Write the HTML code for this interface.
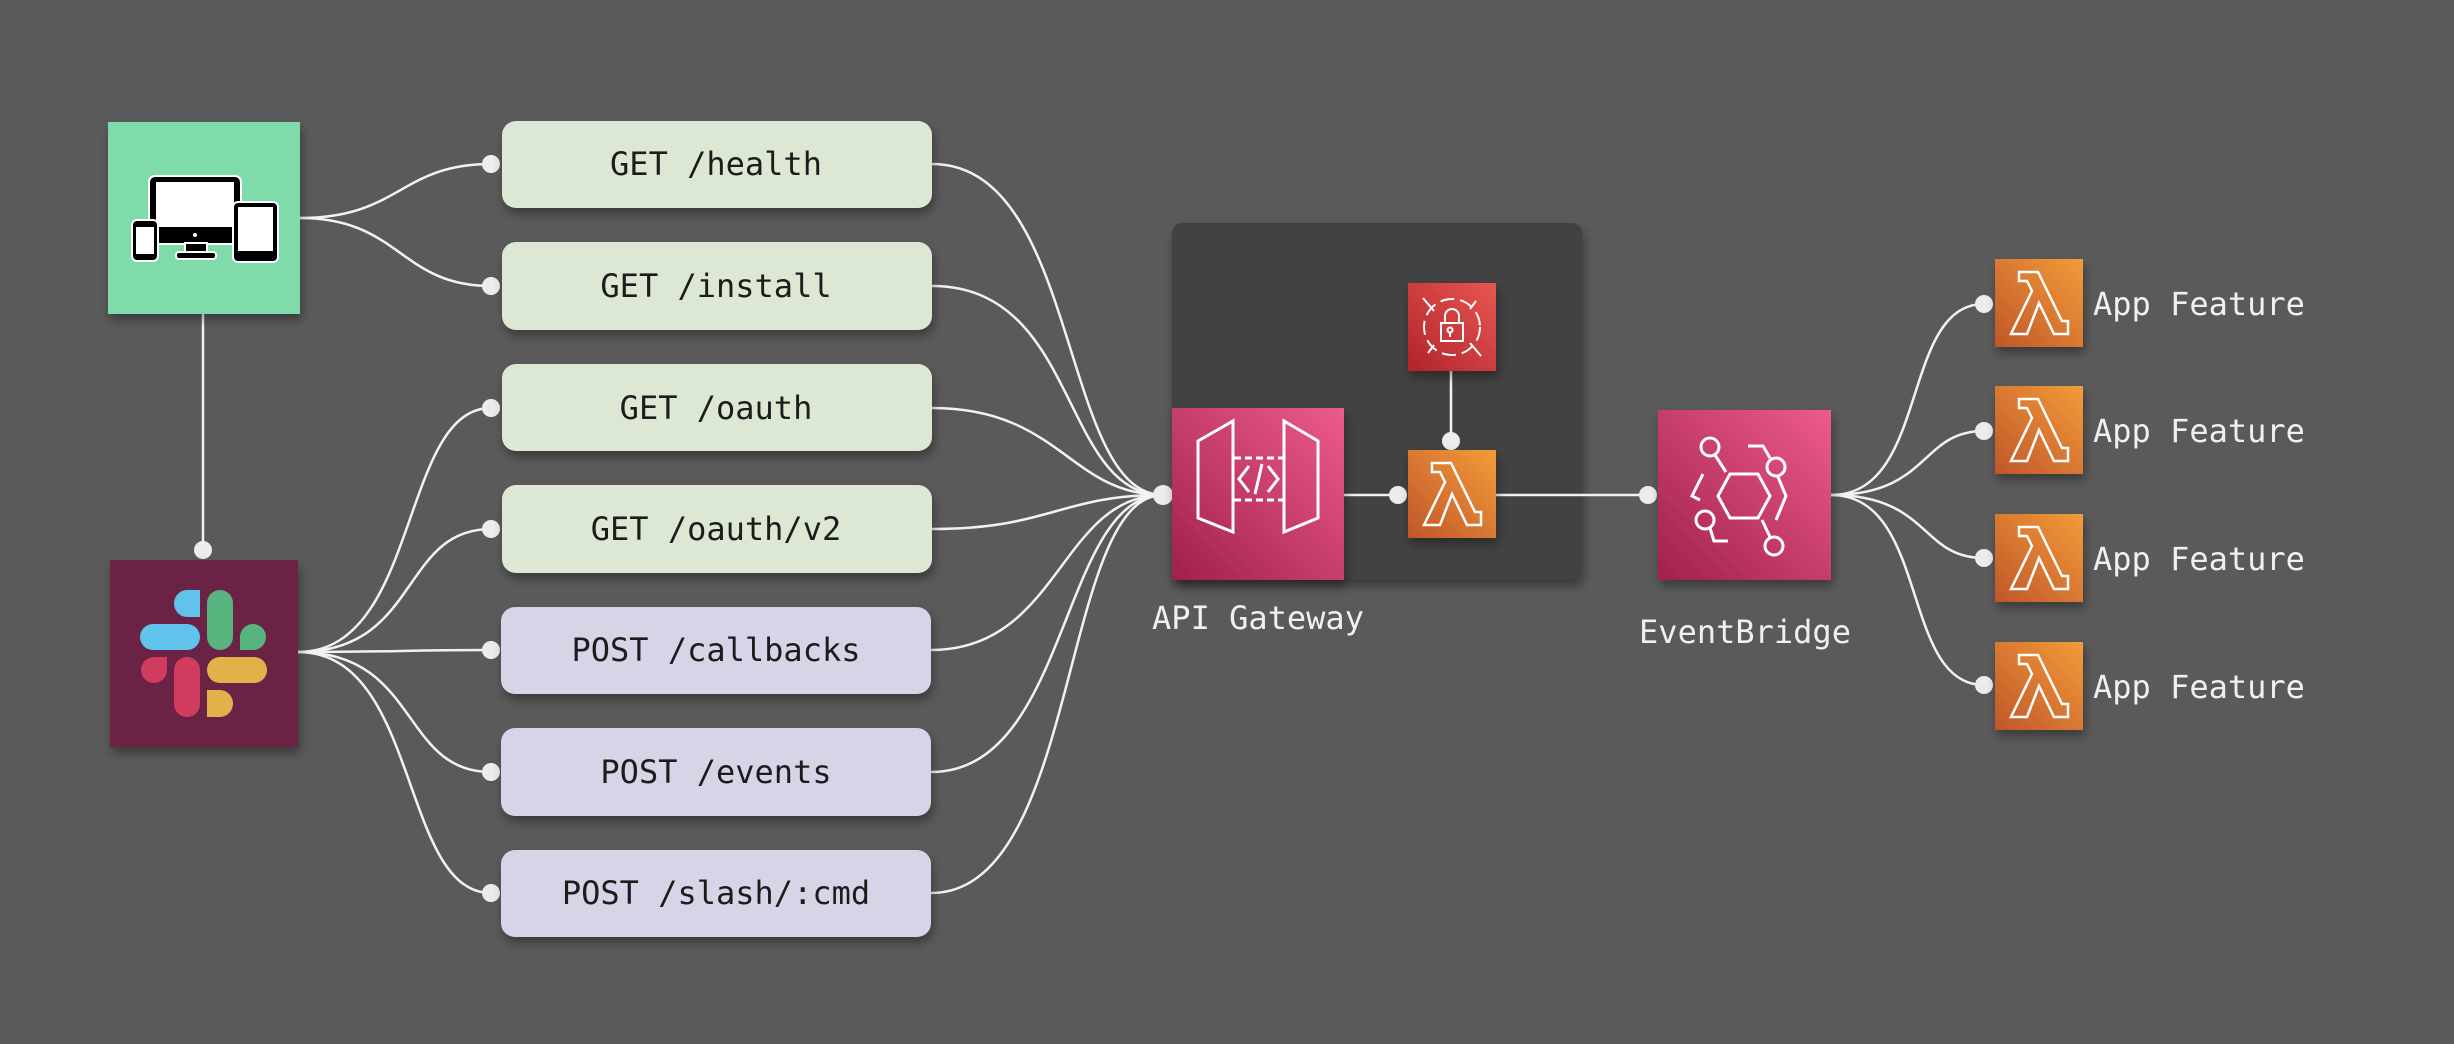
<!DOCTYPE html>
<html><head><meta charset="utf-8"><style>
html,body{margin:0;padding:0;background:#5a5a5a;}
svg{display:block;}
text{font-family:"DejaVu Sans Mono","Liberation Mono",monospace;}
</style></head><body>
<svg width="2454" height="1044" viewBox="0 0 2454 1044" xmlns="http://www.w3.org/2000/svg">
<defs>
<filter id="sh" x="-20%" y="-20%" width="150%" height="150%"><feDropShadow dx="2" dy="6" stdDeviation="5" flood-color="#000" flood-opacity="0.35"/></filter>
<linearGradient id="gp" x1="0" y1="1" x2="1" y2="0"><stop offset="0" stop-color="#a1204d"/><stop offset="1" stop-color="#ec5b8c"/></linearGradient>
<linearGradient id="go" x1="0" y1="1" x2="1" y2="0"><stop offset="0" stop-color="#c0562a"/><stop offset="1" stop-color="#f39c38"/></linearGradient>
<linearGradient id="gr" x1="0" y1="1" x2="1" y2="0"><stop offset="0" stop-color="#b0242a"/><stop offset="1" stop-color="#e85652"/></linearGradient>
<g id="lam"><polygon points="24,13 43,13 67,62 73,62 73,75 59,75 44,44 32,75 16,75 37,32 32,22 24,22" fill="none" stroke="#fff" stroke-width="2.5" stroke-linejoin="miter"/></g>
</defs>

<!-- group -->
<rect x="1172" y="223" width="410" height="357" rx="10" fill="#424242" filter="url(#sh)"/>

<!-- connectors -->
<g fill="none" stroke="#f2f2f2" stroke-width="2.5">
<line x1="203" y1="314" x2="203" y2="550"/>
<path d="M300 218 C400 218 400 164 491 164"/>
<path d="M300 218 C400 218 400 286 491 286"/>
<path d="M298 652 C420 652 400 408 491 408"/>
<path d="M298 652 C420 652 400 529 491 529"/>
<path d="M298 652 C400 652 400 650 491 650"/>
<path d="M298 652 C420 652 400 772 491 772"/>
<path d="M298 652 C420 652 400 893 491 893"/>
<path d="M932 164 C1080 164 1060 495 1163 495"/>
<path d="M932 286 C1080 286 1060 495 1163 495"/>
<path d="M932 408 C1060 408 1070 495 1163 495"/>
<path d="M932 529 C1050 529 1060 495 1163 495"/>
<path d="M931 650 C1060 650 1060 495 1163 495"/>
<path d="M931 772 C1070 772 1060 495 1163 495"/>
<path d="M931 893 C1080 893 1060 495 1163 495"/>
<line x1="1344" y1="495" x2="1398" y2="495"/>
<line x1="1451" y1="371" x2="1451" y2="441"/>
<line x1="1496" y1="495" x2="1648" y2="495"/>
<path d="M1831 495 C1930 495 1900 304 1984 304"/>
<path d="M1831 495 C1930 495 1920 431 1984 431"/>
<path d="M1831 495 C1930 495 1920 558 1984 558"/>
<path d="M1831 495 C1930 495 1900 685 1984 685"/>
</g>
<g fill="#ececec">
<ellipse cx="203" cy="550" rx="9" ry="9"/>
<circle cx="491" cy="164" r="9"/><circle cx="491" cy="286" r="9"/><circle cx="491" cy="408" r="9"/><circle cx="491" cy="529" r="9"/><circle cx="491" cy="650" r="9"/><circle cx="491" cy="772" r="9"/><circle cx="491" cy="893" r="9"/>
<circle cx="1163" cy="495" r="10"/><circle cx="1398" cy="495" r="9"/><circle cx="1451" cy="441" r="9"/><circle cx="1648" cy="495" r="9"/>
<circle cx="1984" cy="304" r="9"/><circle cx="1984" cy="431" r="9"/><circle cx="1984" cy="558" r="9"/><circle cx="1984" cy="685" r="9"/>
</g>

<!-- devices -->
<rect x="108" y="122" width="192" height="192" fill="#7fdcaa" filter="url(#sh)"/>
<g stroke="#fff" stroke-width="2">
<rect x="149" y="176" width="92" height="68" rx="6" fill="#000"/>
<rect x="156" y="182" width="78" height="45" fill="#fff" stroke="none"/>
<rect x="185" y="243" width="22" height="10" fill="#000"/>
<rect x="176" y="252" width="40" height="7" rx="3" fill="#000"/>
<rect x="132" y="220" width="26" height="41" rx="5" fill="#000"/>
<rect x="136" y="227" width="18" height="27" fill="#fff" stroke="none"/>
<rect x="233" y="202" width="45" height="60" rx="5" fill="#000"/>
<rect x="238" y="207" width="35" height="44" fill="#fff" stroke="none"/>
</g>
<circle cx="195" cy="235" r="2" fill="#fff"/>

<!-- slack -->
<rect x="110" y="560" width="188" height="187" fill="#6a2245" filter="url(#sh)"/>
<g>
<rect x="140" y="624" width="60" height="26" rx="13" fill="#5fc3ec"/>
<path d="M200 590 V617 H187 A13 13.5 0 0 1 187 590 Z" fill="#5fc3ec"/>
<rect x="207" y="590" width="26" height="60" rx="13" fill="#58b47f"/>
<path d="M240 650 V637 A13 13 0 1 1 253 650 Z" fill="#58b47f"/>
<rect x="174" y="657" width="26" height="60" rx="13" fill="#d03b5e"/>
<path d="M167 657 V670 A13 13 0 1 1 154 657 Z" fill="#d03b5e"/>
<rect x="207" y="657" width="60" height="26" rx="13" fill="#e3b14a"/>
<path d="M207 690 H220 A13 13.5 0 0 1 220 717 H207 Z" fill="#e3b14a"/>
</g>

<!-- routes -->
<g filter="url(#sh)">
<rect x="502" y="121" width="430" height="87" rx="14" fill="#dde8d4"/>
<rect x="502" y="242" width="430" height="88" rx="14" fill="#dde8d4"/>
<rect x="502" y="364" width="430" height="87" rx="14" fill="#dde8d4"/>
<rect x="502" y="485" width="430" height="88" rx="14" fill="#dde8d4"/>
<rect x="501" y="607" width="430" height="87" rx="14" fill="#d8d4e7"/>
<rect x="501" y="728" width="430" height="88" rx="14" fill="#d8d4e7"/>
<rect x="501" y="850" width="430" height="87" rx="14" fill="#d8d4e7"/>
</g>
<g font-size="32" fill="#1c1c1c" text-anchor="middle">
<text x="716" y="175">GET /health</text>
<text x="716" y="297">GET /install</text>
<text x="716" y="419">GET /oauth</text>
<text x="716" y="540">GET /oauth/v2</text>
<text x="716" y="661">POST /callbacks</text>
<text x="716" y="783">POST /events</text>
<text x="716" y="904">POST /slash/:cmd</text>
</g>

<!-- API gateway -->
<rect x="1172" y="408" width="172" height="172" fill="url(#gp)" filter="url(#sh)"/>
<g fill="none" stroke="#fff" stroke-width="3">
<polygon points="1198,441 1233,421 1233,532 1198,518"/>
<polygon points="1284,421 1318,441 1318,518 1284,532"/>
<line x1="1234" y1="458" x2="1283" y2="458" stroke-dasharray="7,4"/>
<line x1="1234" y1="500" x2="1283" y2="500" stroke-dasharray="7,4"/>
<polyline points="1249,466 1239,479 1249,492"/><polyline points="1268,466 1278,479 1268,492"/><line x1="1262" y1="464" x2="1255" y2="494"/>
</g>
<text x="1258" y="629" font-size="32" fill="#f0f0f0" text-anchor="middle">API Gateway</text>

<!-- shield -->
<rect x="1408" y="283" width="88" height="88" fill="url(#gr)" filter="url(#sh)"/>
<g fill="none" stroke="#fff" stroke-width="2" transform="translate(1408,283)">
<circle cx="44" cy="44" r="28" stroke-dasharray="14,6"/>
<rect x="33" y="40" width="22" height="18"/><path d="M37 40 V33 A7 7 0 0 1 51 33 V40"/>
<circle cx="42" cy="47" r="2.5"/><line x1="42" y1="49" x2="42" y2="54"/>
<line x1="15" y1="15" x2="26" y2="28"/><line x1="73" y1="73" x2="62" y2="60"/>
<line x1="20" y1="70" x2="26" y2="62"/><line x1="68" y1="18" x2="62" y2="26"/>
</g>

<!-- lambda in group -->
<rect x="1408" y="450" width="88" height="88" fill="url(#go)" filter="url(#sh)"/>
<use href="#lam" transform="translate(1408,450)"/>

<!-- EventBridge -->
<rect x="1658" y="410" width="173" height="170" fill="url(#gp)" filter="url(#sh)"/>
<g fill="none" stroke="#fff" stroke-width="3" transform="translate(1658,410)">
<polygon points="72,64 100,64 112,86 100,108 72,108 60,86"/>
<circle cx="52" cy="37" r="9"/><line x1="57" y1="45" x2="68" y2="62"/>
<circle cx="118" cy="57" r="9"/><polyline points="90,36 105,36 112,48"/><polyline points="120,67 128,86 118,110"/>
<circle cx="47" cy="110" r="9"/><polyline points="42,90 34,86 45,64"/><polyline points="52,118 56,131 70,131"/>
<circle cx="116" cy="136" r="9"/><line x1="104" y1="110" x2="112" y2="127"/>
</g>
<text x="1745" y="643" font-size="32" fill="#f0f0f0" text-anchor="middle">EventBridge</text>

<!-- app features -->
<g filter="url(#sh)">
<rect x="1995" y="259" width="88" height="88" fill="url(#go)"/>
<rect x="1995" y="386" width="88" height="88" fill="url(#go)"/>
<rect x="1995" y="514" width="88" height="88" fill="url(#go)"/>
<rect x="1995" y="642" width="88" height="88" fill="url(#go)"/>
</g>
<use href="#lam" transform="translate(1995,259)"/>
<use href="#lam" transform="translate(1995,386)"/>
<use href="#lam" transform="translate(1995,514)"/>
<use href="#lam" transform="translate(1995,642)"/>
<g font-size="32" fill="#f0f0f0">
<text x="2093" y="315">App Feature</text>
<text x="2093" y="442">App Feature</text>
<text x="2093" y="570">App Feature</text>
<text x="2093" y="698">App Feature</text>
</g>
</svg>
</body></html>
